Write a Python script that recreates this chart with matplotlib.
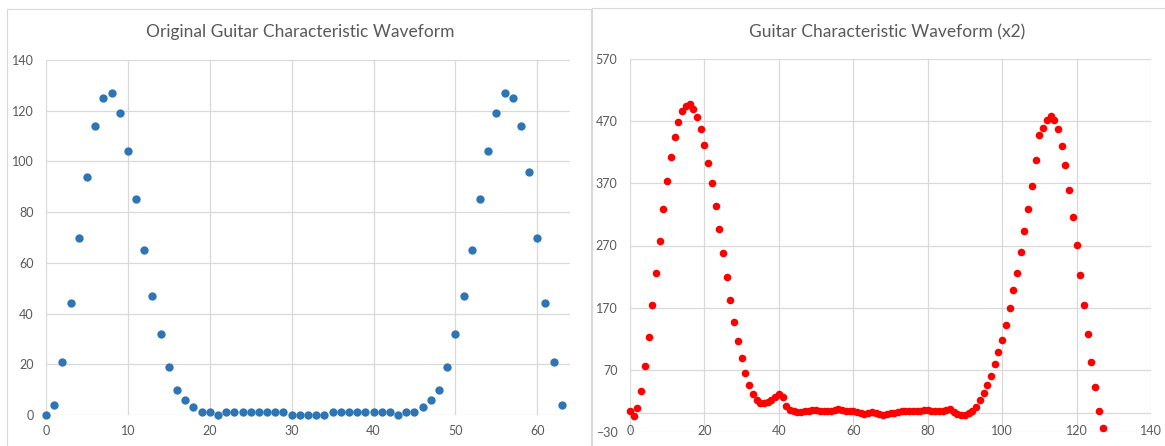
import numpy as np
import matplotlib
matplotlib.use("Agg")
import matplotlib.pyplot as plt
from matplotlib.patches import Rectangle

plt.rcParams['font.family'] = ['Lato', 'DejaVu Sans']

# original waveform (64 samples)
orig_y = [0, 4, 21, 44, 70, 94, 114, 125, 127, 119, 104, 85, 65, 47, 32, 19,
          10, 6, 3, 1, 1, 0, 1, 1, 1, 1, 1, 1, 1, 1, 0, 0,
          0, 0, 0, 1, 1, 1, 1, 1, 1, 1, 1, 0, 1, 1, 3, 6,
          10, 19, 32, 47, 65, 85, 104, 119, 127, 125, 114, 96, 70, 44, 21, 4]
orig_x = list(range(len(orig_y)))

# x2 waveform (128 samples)
x2_y = [3, -4, 8, 36, 76, 123, 174, 226, 278, 328, 373, 412, 444, 469, 486, 494,
        497, 489, 477, 457, 432, 402, 370, 334, 297, 258, 219, 183, 147, 117, 89, 65,
        45, 31, 21, 16, 16, 19, 22, 27, 31, 26, 12, 6, 4, 2, 2, 3,
        4, 5, 6, 4, 4, 4, 4, 5, 7, 5, 4, 3, 3, 2, 1, -1,
        1, 2, 1, -1, -2, -1, 0, 1, 2, 3, 4, 4, 4, 4, 4, 5,
        6, 4, 4, 4, 4, 5, 7, 2, -1, -2, -2, 1, 4, 11, 22, 32,
        45, 60, 79, 99, 118, 142, 169, 198, 226, 260, 293, 328, 366, 407, 448, 459,
        472, 479, 472, 457, 430, 399, 360, 316, 271, 222, 174, 127, 82, 42, 4, -24]
x2_x = list(range(len(x2_y)))

left_xticks = [0, 10, 20, 30, 40, 50, 60]
left_yticks = [0, 20, 40, 60, 80, 100, 120, 140]
right_xticks = [0, 20, 40, 60, 80, 100, 120, 140]
right_yticks = [-30, 70, 170, 270, 370, 470, 570]

W, H = 1165, 446
fig = plt.figure(figsize=(W / 100, H / 100), dpi=100)

grid_c = '#D9D9D9'
txt_c = '#595959'

# chart frames
fig.add_artist(Rectangle((7 / W, -0.01), (591 - 7) / W, 1 - 9 / H + 0.01,
                         transform=fig.transFigure, fill=False, ec='#D9D9D9', lw=0.8))
fig.add_artist(Rectangle((592 / W, -0.01), (W - 592) / W + 0.01, 1 - 8 / H + 0.01,
                         transform=fig.transFigure, fill=False, ec='#D9D9D9', lw=0.8))

ax1 = fig.add_axes([46 / W, 1 - 415 / H, 524 / W, 355 / H])
ax2 = fig.add_axes([630 / W, 1 - 432 / H, 521 / W, 373 / H])

for ax in (ax1, ax2):
    for s in ax.spines.values():
        s.set_visible(False)
    ax.grid(True, color=grid_c, lw=0.9)
    ax.set_axisbelow(True)
    ax.tick_params(length=0, labelsize=9, colors=txt_c)

# left chart
ax1.scatter(orig_x, orig_y, s=36, color='#2E75B6', zorder=3, clip_on=False, linewidths=0)
ax1.set_xlim(0, 64)
ax1.set_ylim(0, 140)
ax1.set_xticks(left_xticks)
ax1.set_yticks(left_yticks)
ax1.tick_params(axis='y', pad=9)
ax1.tick_params(axis='x', pad=7)
fig.text(300 / W, 1 - 32 / H, 'Original Guitar Characteristic Waveform',
         ha='center', va='center', fontsize=12.5, color=txt_c)

# right chart
ax2.axhline(0, color=grid_c, lw=0.9, zorder=1)
ax2.scatter(x2_x, x2_y, s=30, color='#FF0000', zorder=3, clip_on=False, linewidths=0)
ax2.set_xlim(0, 140)
ax2.set_ylim(-30, 570)
ax2.set_xticks(right_xticks)
ax2.set_yticks(right_yticks)
ax2.tick_params(axis='y', pad=9)
ax2.tick_params(axis='x', pad=-5)
fig.text(887 / W, 1 - 32 / H, 'Guitar Characteristic Waveform (x2)',
         ha='center', va='center', fontsize=12.5, color=txt_c)

fig.savefig('out.png', dpi=100)
